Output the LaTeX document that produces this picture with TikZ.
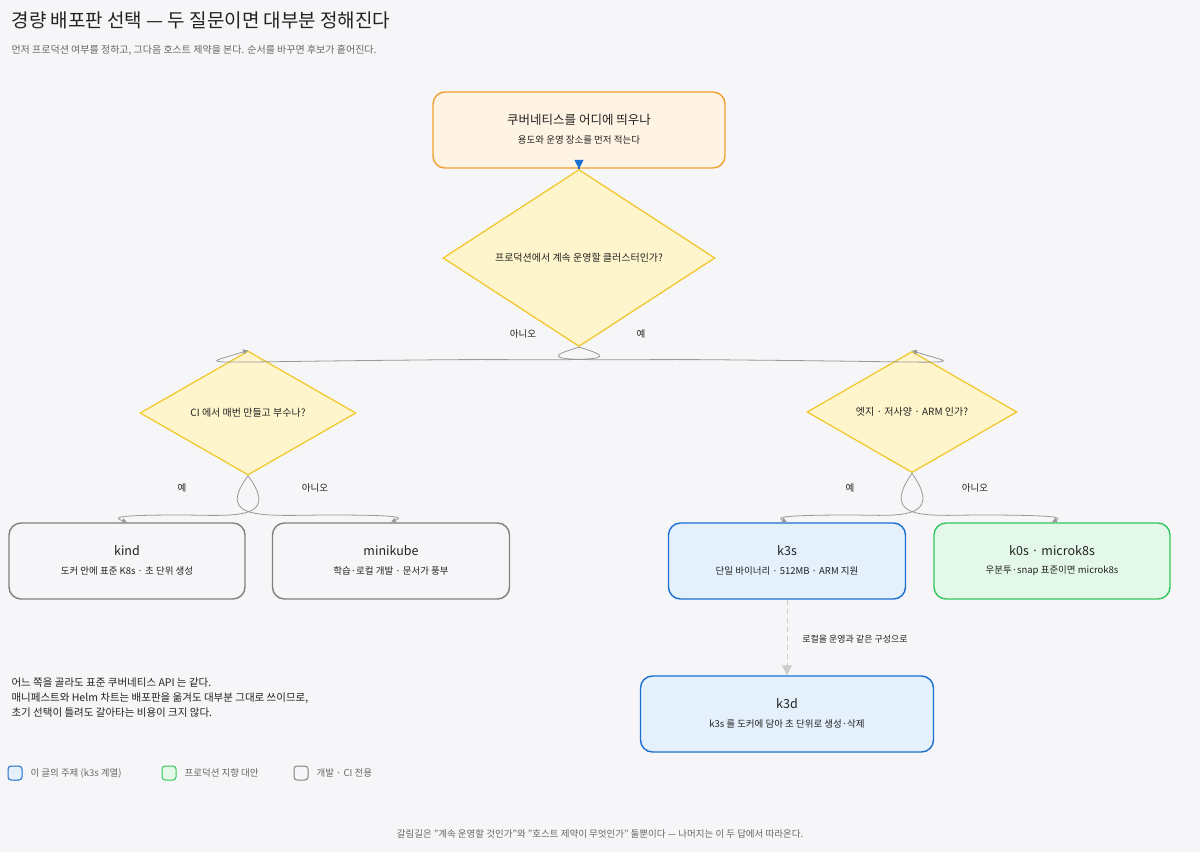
\documentclass[tikz,border=0pt]{standalone}
\usepackage{fontspec}
\setmainfont{Noto Sans CJK KR}
\usetikzlibrary{shapes.geometric,arrows.meta}
\definecolor{bg}{HTML}{F6F6F8}
\definecolor{ink}{HTML}{222222}
\definecolor{sub}{HTML}{666666}
\definecolor{dfill}{HTML}{FFF5CC}
\definecolor{dline}{HTML}{F2C830}
\definecolor{ofill}{HTML}{FFF4E3}
\definecolor{oline}{HTML}{F0A030}
\definecolor{bfill}{HTML}{E4F0FC}
\definecolor{bline}{HTML}{1A6FD0}
\definecolor{gfill}{HTML}{E4F8EA}
\definecolor{gline}{HTML}{34C759}
\definecolor{kfill}{HTML}{F6F6F8}
\definecolor{kline}{HTML}{808080}
\definecolor{conn}{HTML}{999999}
\begin{document}
\begin{tikzpicture}[x=1pt,y=-1pt,
  box/.style={draw,rounded corners=12pt,line width=1.4pt,minimum width=#1,minimum height=76pt,align=center,inner sep=0pt},
  dia/.style={diamond,draw=dline,fill=dfill,line width=1.3pt,inner sep=0pt,minimum height=84pt,font=\fontsize{10}{12}\selectfont,text=ink},
  t1/.style={font=\fontsize{12.5}{14}\selectfont,text=ink},
  lab/.style={font=\fontsize{9.5}{11}\selectfont,text=ink},
  con/.style={draw=conn,line width=0.8pt,-{Triangle[length=5pt,width=5pt]}}]
\fill[bg] (0,0) rectangle (1200,852);
\node[anchor=west,font=\fontsize{19}{22}\selectfont,text=ink] (title) at (8,20) {경량 배포판 선택 — 두 질문이면 대부분 정해진다};
\node[anchor=west,font=\fontsize{10}{12}\selectfont,text=sub] (subt) at (8,50) {먼저 프로덕션 여부를 정하고, 그다음 호스트 제약을 본다. 순서를 바꾸면 후보가 흩어진다.};

\node[box=292pt,draw=oline,fill=ofill] (top) at (579,130) {};
\node[t1] (topt) at (579,120) {쿠버네티스를 어디에 띄우나};
\node[lab] (tops) at (579,140) {용도와 운영 장소를 먼저 적는다};

\node[dia,minimum width=272pt] (d1) at (579,258) {프로덕션에서 계속 운영할 클러스터인가?};
\node[dia,minimum width=216pt] (d2) at (248,413) {CI 에서 매번 만들고 부수나?};
\node[dia,minimum width=210pt] (d3) at (912,412) {엣지 · 저사양 · ARM 인가?};

\draw[draw=bline,line width=1.4pt,-{Triangle[length=9pt,width=9pt]}] (top.south) -- (d1.north);

\node[box=236pt,draw=kline,fill=kfill] (kind) at (127,561) {};
\node[t1] at (127,551) {kind};
\node[lab] at (127,571) {도커 안에 표준 K8s · 초 단위 생성};
\node[box=237pt,draw=kline,fill=kfill] (mini) at (391,561) {};
\node[t1] at (391,551) {minikube};
\node[lab] at (391,571) {학습·로컬 개발 · 문서가 풍부};
\node[box=237pt,draw=bline,fill=bfill] (k3s) at (787,561) {};
\node[t1] at (787,551) {k3s};
\node[lab] at (787,571) {단일 바이너리 · 512MB · ARM 지원};
\node[box=236pt,draw=gline,fill=gfill] (k0s) at (1052,561) {};
\node[t1] at (1052,551) {k0s · microk8s};
\node[lab] at (1052,571) {우분투·snap 표준이면 microk8s};
\node[box=293pt,draw=bline,fill=bfill] (k3d) at (787,714) {};
\node[t1] at (787,704) {k3d};
\node[lab] at (787,724) {k3s 를 도커에 담아 초 단위로 생성·삭제};

% loopy connectors
\draw[con] (d1.south) .. controls (640,365) and (560,358) .. (420,360) .. controls (180,362) and (200,366) .. (d2.north);
\draw[con] (d1.south) .. controls (518,365) and (598,358) .. (738,360) .. controls (980,362) and (960,366) .. (d3.north);
\draw[con] (d2.south) .. controls (282,522) and (230,515) .. (180,515) .. controls (110,515) and (115,518) .. (kind.north);
\draw[con] (d2.south) .. controls (214,522) and (266,515) .. (330,515) .. controls (410,515) and (400,518) .. (mini.north);
\draw[con] (d3.south) .. controls (946,522) and (894,515) .. (850,515) .. controls (775,515) and (778,518) .. (k3s.north);
\draw[con] (d3.south) .. controls (878,522) and (930,515) .. (980,515) .. controls (1065,515) and (1060,518) .. (k0s.north);
\draw[draw=black!20,line width=1pt,dash pattern=on 5pt off 4pt,-{Triangle[length=10pt,width=10pt]}] (k3s.south) -- (k3d.north);

\node[lab] (l1) at (523,334) {아니오};
\node[lab] (l2) at (641,334) {예};
\node[lab] (l3) at (182,488) {예};
\node[lab] (l4) at (315,488) {아니오};
\node[lab] (l5) at (850,488) {예};
\node[lab] (l6) at (975,488) {아니오};
\node[lab,font=\fontsize{9}{10}\selectfont] (l7) at (855,639) {로컬을 운영과 같은 구성으로};

\node[anchor=north west,align=left,font=\fontsize{10.5}{15}\selectfont,text=ink] (note) at (8,674) {어느 쪽을 골라도 표준 쿠버네티스 API 는 같다.\\매니페스트와 Helm 차트는 배포판을 옮겨도 대부분 그대로 쓰이므로,\\초기 선택이 틀려도 갈아타는 비용이 크지 않다.};

\node[draw=bline,fill=bfill,line width=1pt,rounded corners=3pt,minimum size=14pt,inner sep=0pt] (g1) at (15,773) {};
\node[anchor=west,lab,text=sub] at (27,773) {이 글의 주제 (k3s 계열)};
\node[draw=gline,fill=gfill,line width=1pt,rounded corners=3pt,minimum size=14pt,inner sep=0pt] (g2) at (169,773) {};
\node[anchor=west,lab,text=sub] at (181,773) {프로덕션 지향 대안};
\node[draw=kline,fill=kfill,line width=1pt,rounded corners=3pt,minimum size=14pt,inner sep=0pt] (g3) at (301,773) {};
\node[anchor=west,lab,text=sub] at (313,773) {개발 · CI 전용};

\node[lab,text=sub] (foot) at (600,834) {갈림길은 "계속 운영할 것인가"와 "호스트 제약이 무엇인가" 둘뿐이다 — 나머지는 이 두 답에서 따라온다.};
\end{tikzpicture}
\end{document}
